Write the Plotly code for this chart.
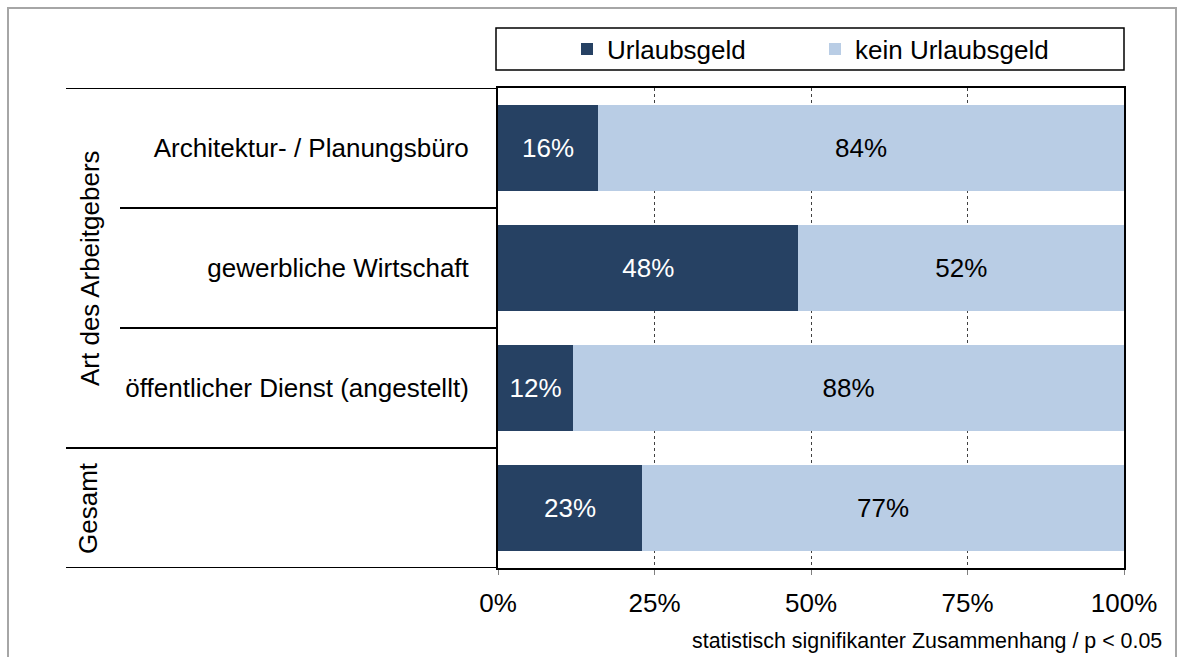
import plotly.graph_objects as go

# Employer types (top to bottom) and share with / without holiday pay, in %
categories = ["Architektur- / Planungsbüro", "gewerbliche Wirtschaft",
              "öffentlicher Dienst (angestellt)", "Gesamt"]
tick_labels = ["Architektur- / Planungsbüro", "gewerbliche Wirtschaft",
               "öffentlicher Dienst (angestellt)", ""]
urlaubsgeld = [16, 48, 12, 23]
kein_urlaubsgeld = [84, 52, 88, 77]
x_ticks = [0, 25, 50, 75, 100]

FONT = "Liberation Sans, Arial, sans-serif"
FS = 26
DARK = "#264163"
LIGHT = "#b9cde5"
W, H = 1184, 657
L, R, T, B = 498, 60, 88, 89
PW, PH = W - L - R, H - T - B


def px_x(px):
    return (px - L) / PW


def px_y(py):
    return 1 + (T - py) / PH


fig = go.Figure()
fig.add_trace(go.Bar(
    name="Urlaubsgeld", y=categories, x=urlaubsgeld, orientation="h",
    marker=dict(color=DARK, line=dict(width=0)), width=0.71,
    texttemplate="%{x:.0f}%", textposition="inside", insidetextanchor="middle",
    textfont=dict(color="white", size=FS, family=FONT), textangle=0,
))
fig.add_trace(go.Bar(
    name="kein Urlaubsgeld", y=categories, x=kein_urlaubsgeld, orientation="h",
    marker=dict(color=LIGHT, line=dict(width=0)), width=0.71,
    texttemplate="%{x:.0f}%", textposition="inside", insidetextanchor="middle",
    textfont=dict(color="black", size=FS, family=FONT), textangle=0,
))

shapes = []
# group separators on the left side
for yv, xs in [(-0.5, 66), (0.5, 120), (1.5, 120), (2.5, 66), (3.5, 66)]:
    shapes.append(dict(type="line", xref="paper", yref="y", x0=px_x(xs), x1=0,
                       y0=yv, y1=yv, line=dict(color="black", width=1.8)))
# legend frame
shapes.append(dict(type="rect", xref="paper", yref="paper",
                   x0=px_x(496), x1=px_x(1124), y0=px_y(70), y1=px_y(28),
                   line=dict(color="black", width=1.5)))
# outer frame
shapes.append(dict(type="rect", xref="paper", yref="paper",
                   x0=px_x(8), x1=px_x(1176), y0=px_y(664), y1=px_y(8),
                   line=dict(color="#a6a6a6", width=2)))

annotations = [
    dict(text="Art des Arbeitgebers", xref="paper", yref="y", x=px_x(90), y=1.0,
         textangle=-90, showarrow=False, font=dict(size=FS, family=FONT, color="black"),
         xanchor="center", yanchor="middle"),
    dict(text="Gesamt", xref="paper", yref="y", x=px_x(88), y=3.0,
         textangle=-90, showarrow=False, font=dict(size=FS, family=FONT, color="black"),
         xanchor="center", yanchor="middle"),
    dict(text="statistisch signifikanter Zusammenhang / p < 0.05", xref="paper",
         yref="paper", x=px_x(1164), y=px_y(641), showarrow=False,
         xanchor="right", yanchor="middle",
         font=dict(size=21.4, family=FONT, color="black")),
]

fig.update_layout(
    width=W, height=H, barmode="stack",
    margin=dict(l=L, r=R, t=T, b=B),
    paper_bgcolor="white", plot_bgcolor="white",
    font=dict(family=FONT, size=FS, color="black"),
    showlegend=True,
    legend=dict(orientation="h", xref="paper", yref="paper",
                x=px_x(567), y=px_y(49), xanchor="left", yanchor="middle",
                entrywidth=203, entrywidthmode="pixels", itemwidth=30,
                font=dict(size=FS, family=FONT, color="black"),
                bgcolor="rgba(0,0,0,0)", borderwidth=0, traceorder="normal"),
    shapes=shapes, annotations=annotations,
    bargap=0.29,
)
fig.update_xaxes(range=[0, 100], tickvals=x_ticks,
                 ticktext=[f"{v}%" for v in x_ticks],
                 showgrid=True, gridcolor="#404040", griddash="dot", gridwidth=1,
                 showline=True, linecolor="black", linewidth=1.5, mirror=True,
                 ticks="outside", ticklen=5, tickcolor="#808080",
                 ticklabelstandoff=6,
                 tickfont=dict(size=FS, family=FONT, color="black"),
                 zeroline=False, fixedrange=True)
fig.update_yaxes(categoryorder="array", categoryarray=categories,
                 tickvals=categories, ticktext=tick_labels,
                 autorange=False, range=[3.5, -0.5],
                 showline=True, linecolor="black", linewidth=2, mirror=True,
                 ticks="", ticklabelstandoff=22,
                 tickfont=dict(size=FS, family=FONT, color="black"),
                 showgrid=False, zeroline=False, fixedrange=True)

fig.write_html("out.html")
